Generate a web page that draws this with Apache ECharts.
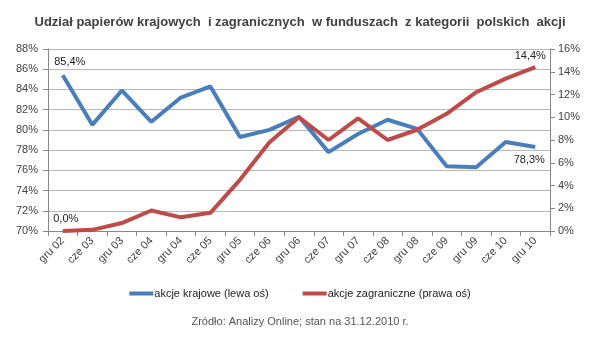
<!DOCTYPE html>
<html><head><meta charset="utf-8">
<script src="https://cdn.jsdelivr.net/npm/echarts@6/dist/echarts.min.js"></script>
<style>html,body{margin:0;padding:0;background:#fff}#c{width:600px;height:350px}</style>
</head><body><div id="c"></div>
<script>
var categories = ["gru 02","cze 03","gru 03","cze 04","gru 04","cze 05","gru 05","cze 06","gru 06","cze 07","gru 07","cze 08","gru 08","cze 09","gru 09","cze 10","gru 10"];
var krajowe = [85.4,80.5,83.9,80.8,83.2,84.3,79.3,80.0,81.3,77.8,79.6,81.0,80.1,76.4,76.3,78.8,78.3];
var zagraniczne = [0.0,0.1,0.7,1.8,1.2,1.6,4.5,7.8,10.0,8.0,9.9,8.0,8.9,10.3,12.2,13.4,14.4];
var leftTicks = {min:70,max:88,interval:2};
var rightTicks = {min:0,max:16,interval:2};

var fmt = function(v){return v.toFixed(1).replace('.',',')+'%';};
var last = categories.length-1;
function build(arr, cfg){
  return arr.map(function(v,i){
    var o = {value:v};
    if(cfg[i]) o.label = Object.assign({show:true,formatter:function(p){return fmt(p.value);},color:'#222',fontSize:11,fontFamily:'Liberation Sans'}, cfg[i]);
    return o;
  });
}
var blueCfg = {}; blueCfg[0]={position:'top',offset:[7,-3]}; blueCfg[last]={position:'bottom',offset:[-6,2]};
var redCfg = {}; redCfg[0]={position:'top',offset:[3,-1]}; redCfg[last]={position:'top',offset:[-5,-1]};

var axisLbl = {color:'#404040',fontSize:11,fontFamily:'Liberation Sans'};
var chart = echarts.init(document.getElementById('c'));
chart.setOption({
  animation:false,
  title:{text:'Udział papierów krajowych  i zagranicznych  w funduszach  z kategorii  polskich  akcji',left:'center',top:11,
    textStyle:{fontSize:13,fontWeight:'bold',color:'#404040',fontFamily:'Liberation Sans'}},
  grid:{left:48,right:50,top:49,bottom:119},
  legend:{top:283,left:'center',itemWidth:24,itemHeight:4,itemGap:34,icon:'rect',
    textStyle:{fontSize:11,color:'#222',fontFamily:'Liberation Sans',padding:[0,0,0,-4]},
    data:['akcje krajowe (lewa oś)','akcje zagraniczne (prawa oś)']},
  graphic:[{type:'text',left:'center',top:316,style:{text:'Zródło: Analizy Online; stan na 31.12.2010 r.',fontSize:11,fill:'#555',fontFamily:'Liberation Sans'}}],
  xAxis:{type:'category',data:categories,boundaryGap:true,
    axisLine:{lineStyle:{color:'#888'}},axisTick:{show:true,length:5,lineStyle:{color:'#888'}},
    axisLabel:Object.assign({rotate:45,interval:0,margin:8},axisLbl)},
  yAxis:[
    {type:'value',min:leftTicks.min,max:leftTicks.max,interval:leftTicks.interval,
     axisLine:{show:true,lineStyle:{color:'#888'}},axisTick:{show:true,length:5,lineStyle:{color:'#888'}},
     splitLine:{lineStyle:{color:'#b8b8b8'}},
     axisLabel:Object.assign({formatter:'{value}%',margin:10},axisLbl)},
    {type:'value',min:rightTicks.min,max:rightTicks.max,interval:rightTicks.interval,position:'right',
     axisLine:{show:true,lineStyle:{color:'#888'}},axisTick:{show:true,length:5,lineStyle:{color:'#888'}},
     splitLine:{show:false},
     axisLabel:Object.assign({formatter:'{value}%',margin:8},axisLbl)}
  ],
  series:[
    {name:'akcje krajowe (lewa oś)',type:'line',yAxisIndex:0,data:build(krajowe,blueCfg),
     symbol:'circle',symbolSize:0.1,showSymbol:true,lineStyle:{width:4,color:'#4A7EBB'},itemStyle:{color:'#4A7EBB'}},
    {name:'akcje zagraniczne (prawa oś)',type:'line',yAxisIndex:1,data:build(zagraniczne,redCfg),
     symbol:'circle',symbolSize:0.1,showSymbol:true,lineStyle:{width:4,color:'#BE4B48'},itemStyle:{color:'#BE4B48'}}
  ]
});
</script></body></html>
